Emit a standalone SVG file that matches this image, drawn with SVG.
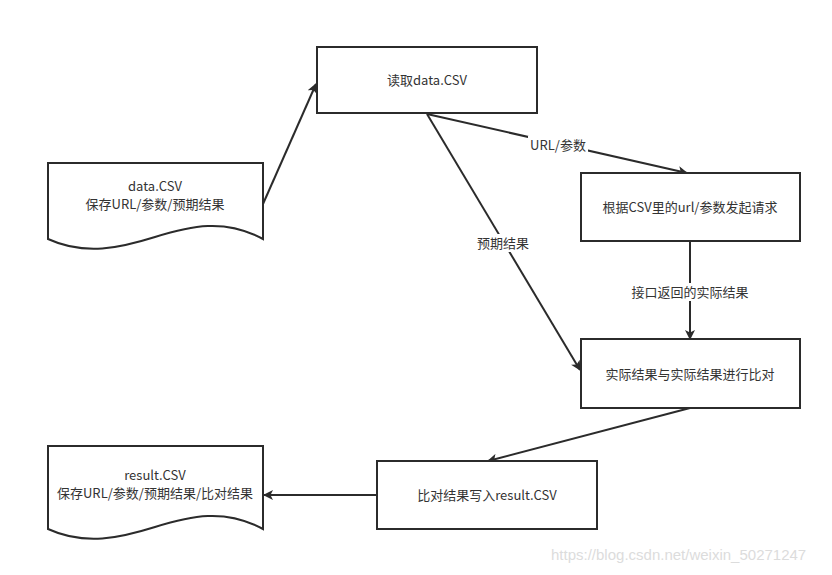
<svg xmlns="http://www.w3.org/2000/svg" width="832" height="575" viewBox="0 0 832 575">
<style>
.box{fill:#fff;stroke:#2b2b2b;stroke-width:2}
.t{font-family:"Noto Sans CJK SC","Microsoft YaHei",sans-serif;font-size:13px;fill:#333;text-anchor:middle}
.edge{stroke:#2b2b2b;stroke-width:2;fill:none}
.lbl{fill:#fff}
</style>
<defs>
<marker id="ah" viewBox="0 0 10 10" refX="9" refY="5" markerWidth="11" markerHeight="10" markerUnits="userSpaceOnUse" orient="auto">
<path d="M0,0 L10,5 L0,10 L2.5,5 Z" fill="#2b2b2b"/>
</marker>
</defs>
<rect width="832" height="575" fill="#fff"/>
<g id="connectors">
<line class="edge" x1="263" y1="204" x2="316" y2="84" marker-end="url(#ah)"/>
<line class="edge" x1="427" y1="114" x2="580" y2="370" marker-end="url(#ah)"/>
<line class="edge" x1="427" y1="114" x2="687" y2="173" marker-end="url(#ah)"/>
<line class="edge" x1="690" y1="241" x2="690" y2="339" marker-end="url(#ah)"/>
<line class="edge" x1="690" y1="408" x2="488" y2="461" marker-end="url(#ah)"/>
<line class="edge" x1="377" y1="495" x2="264" y2="495" marker-end="url(#ah)"/>
<rect class="lbl" x="528" y="136" width="60" height="18"/>
<text class="t" x="558" y="150">URL/参数</text>
<rect class="lbl" x="475" y="234" width="56" height="18"/>
<text class="t" x="503" y="248">预期结果</text>
<rect class="lbl" x="630" y="283" width="120" height="18"/>
<text class="t" x="690" y="297">接口返回的实际结果</text>
</g>
<g id="doc-data">
<path class="box" d="M48,163 H263 V239 C225,218 190,226 155,237 C120,248 85,256 48,239 Z"/>
<text class="t" x="155" y="191">data.CSV</text>
<text class="t" x="155" y="209">保存URL/参数/预期结果</text>
</g>
<g id="read-data">
<rect class="box" x="317" y="47" width="220" height="66"/>
<text class="t" x="427" y="85">读取data.CSV</text>
</g>
<g id="send-request">
<rect class="box" x="581" y="173" width="219" height="68"/>
<text class="t" x="690" y="212">根据CSV里的url/参数发起请求</text>
</g>
<g id="compare">
<rect class="box" x="581" y="339" width="219" height="69"/>
<text class="t" x="690" y="379">实际结果与实际结果进行比对</text>
</g>
<g id="write-result">
<rect class="box" x="377" y="461" width="220" height="68"/>
<text class="t" x="487" y="500">比对结果写入result.CSV</text>
</g>
<g id="doc-result">
<path class="box" d="M48,446 H263 V529 C225,508 190,516 155,527 C120,538 85,546 48,529 Z"/>
<text class="t" x="155" y="480">result.CSV</text>
<text class="t" x="155" y="498">保存URL/参数/预期结果/比对结果</text>
</g>
<text x="551" y="560" style="font-family:'Liberation Sans',Arial,sans-serif;font-size:15px;fill:#dcdcdc">https://blog.csdn.net/weixin_50271247</text>
</svg>
